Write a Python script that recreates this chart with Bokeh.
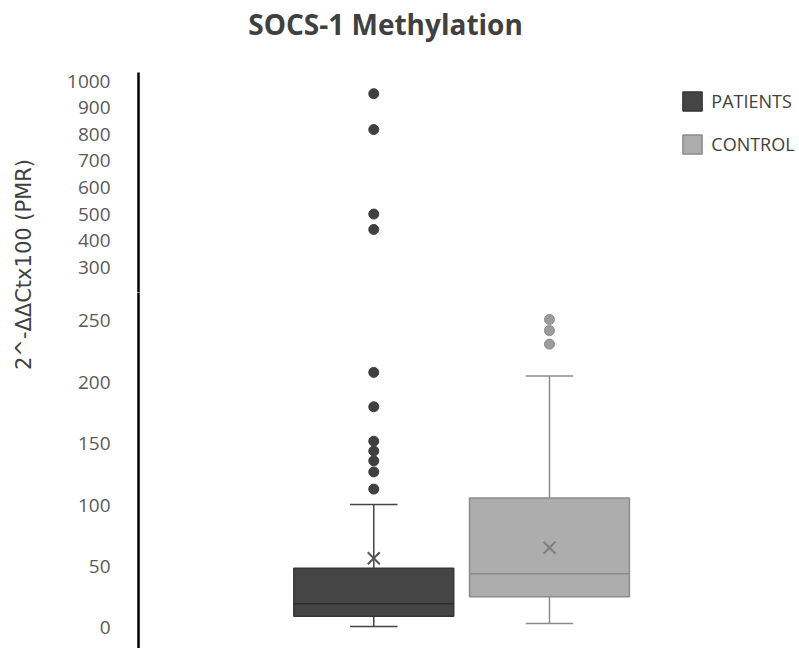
import numpy as np
from bokeh.plotting import figure
from bokeh.models import Range1d, FixedTicker, ColumnDataSource
from bokeh.layouts import row, column
from bokeh.embed import file_html
from bokeh.resources import INLINE
from bokeh.core.properties import value

# ---------------- data ----------------
title_text = "SOCS-1 Methylation"
y_label = "2^-ΔΔCtx100 (PMR)"
groups = ["PATIENTS", "CONTROL"]
positions = [1, 2]
q1 = [9.6, 25.4]
median = [19.7, 44.1]
q3 = [48.7, 105.7]
whisk_low = [1.2, 3.7]
whisk_high = [100.5, 205.0]
means = [56.8, 65.3]
outliers_patients = [953, 818, 500, 442, 208, 180, 152, 144, 136, 127, 113]
outliers_control = [251, 242, 231]
lower_ticks = [0, 50, 100, 150, 200, 250]
upper_ticks = [300, 400, 500, 600, 700, 800, 900, 1000]
break_value = 275  # values above it are drawn in the upper (compressed) panel

# ---------------- styles ----------------
fill_colors = ["#454545", "#adadad"]
line_colors = ["#363636", "#8c8c8c"]
median_colors = ["#2d2d2d", "#8a8a8a"]
whisker_colors = ["#444444", "#8c8c8c"]
mean_colors = ["#555555", "#7f7f7f"]
out_fill = ["#3f3f3f", "#9c9c9c"]
out_line = ["#3f3f3f", "#8a8a8a"]
box_w = 0.91
cap_w = 0.27
FONT = "Open Sans"

TOTAL_W = 799
TITLE_H = 56
LABEL_W = 54
MAIN_W = TOTAL_W - LABEL_W
UP_TOP = 16
UP_H = 220 + UP_TOP
LOW_H = 356
X_RANGE = (-0.339, 3.423)

src = ColumnDataSource(dict(
    x=positions, q1=q1, q3=q3, med=median, lo=whisk_low, hi=whisk_high,
    mean=means, fill=fill_colors, line=line_colors, label=groups,
    medc=median_colors, whc=whisker_colors, meanc=mean_colors,
    bl=[p - box_w / 2 for p in positions], br=[p + box_w / 2 for p in positions],
    cl=[p - cap_w / 2 for p in positions], cr=[p + cap_w / 2 for p in positions],
))


def blank(p):
    p.outline_line_color = None
    p.xgrid.visible = False
    p.ygrid.visible = False


def style_axis(p, ticks):
    p.xaxis.visible = False
    blank(p)
    ax = p.yaxis[0]
    ax.ticker = FixedTicker(ticks=ticks)
    ax.axis_line_color = "black"
    ax.axis_line_width = 2.5
    ax.major_tick_line_color = None
    ax.minor_tick_line_color = None
    ax.major_tick_out = 0
    ax.major_tick_in = 0
    ax.major_label_standoff = 28
    ax.major_label_text_font = FONT
    ax.major_label_text_font_size = "19px"
    ax.major_label_text_color = "#595959"


def outlier_points(vals, pos, upper):
    ys = [v for v in vals if (v > break_value) == upper]
    return [pos] * len(ys), ys


# ---------------- title strip ----------------
tf = figure(width=TOTAL_W, height=TITLE_H, output_backend="svg", toolbar_location=None,
            x_range=Range1d(0, 1), y_range=Range1d(0, 1), x_axis_type=None, y_axis_type=None,
            min_border=0)
blank(tf)
tf.text(x=[0.4819], y=[0.589], text=[title_text], text_align="center",
        text_baseline="alphabetic", text_font=value(FONT), text_font_size="28px",
        text_font_style="bold", text_color="#404040")

# ---------------- upper (compressed) panel ----------------
up = figure(width=MAIN_W, height=UP_H, output_backend="svg", toolbar_location=None,
            x_range=Range1d(*X_RANGE), y_range=Range1d(204.8, 1032.7),
            min_border_left=84, min_border_right=0, min_border_top=UP_TOP, min_border_bottom=0)
style_axis(up, upper_ticks)
# boxes (below this panel's range, hidden; they feed the legend)
leg_r = up.vbar(x="x", width=box_w, bottom="q1", top="q3", fill_color="fill", line_color="line",
                line_width=1.5, source=src, legend_field="label")
leg_r.visible = False
for i, vals in enumerate([outliers_patients, outliers_control]):
    xs, ys = outlier_points(vals, positions[i], True)
    up.scatter(xs, ys, size=10, fill_color=out_fill[i], line_color=out_line[i])

leg = up.legend[0]
leg.location = (542.3, 136.3)
leg.padding = 0
leg.margin = 0
leg.spacing = 19
leg.glyph_width = 24
leg.glyph_height = 24
leg.label_height = 24
leg.label_standoff = 7
leg.border_line_color = None
leg.background_fill_alpha = 0
leg.inactive_fill_alpha = 0
leg.label_text_font = FONT
leg.label_text_font_size = "18px"
leg.label_text_color = "#404040"

# ---------------- lower (linear) panel ----------------
lo = figure(width=MAIN_W, height=LOW_H, output_backend="svg", toolbar_location=None,
            x_range=Range1d(*X_RANGE), y_range=Range1d(-16.7, 273.0),
            min_border_left=84, min_border_right=0, min_border_top=0, min_border_bottom=0)
style_axis(lo, lower_ticks)
lo.segment(x0="x", x1="x", y0="q3", y1="hi", line_color="whc", line_width=1.5, source=src)
lo.segment(x0="x", x1="x", y0="lo", y1="q1", line_color="whc", line_width=1.5, source=src)
lo.segment(x0="cl", x1="cr", y0="hi", y1="hi", line_color="whc", line_width=1.5, source=src)
lo.segment(x0="cl", x1="cr", y0="lo", y1="lo", line_color="whc", line_width=1.5, source=src)
lo.vbar(x="x", width=box_w, bottom="q1", top="q3", fill_color="fill", line_color="line",
        line_width=1.5, source=src)
lo.segment(x0="bl", x1="br", y0="med", y1="med", line_color="medc", line_width=1.5, source=src)
lo.scatter(x="x", y="mean", marker="x", size=17, line_color="meanc", line_width=2, source=src)
for i, vals in enumerate([outliers_patients, outliers_control]):
    xs, ys = outlier_points(vals, positions[i], False)
    lo.scatter(xs, ys, size=10, fill_color=out_fill[i], line_color=out_line[i])

# ---------------- y-axis title strip ----------------
lab = figure(width=LABEL_W, height=UP_H + LOW_H, output_backend="svg", toolbar_location=None,
             x_range=Range1d(0, 1), y_range=Range1d(0, 1), x_axis_type=None, y_axis_type=None,
             min_border=0)
blank(lab)
lab.text(x=[0.444], y=[(648 - 264) / (648 - TITLE_H)], text=[y_label], angle=np.pi / 2,
         text_align="center", text_baseline="middle", text_font=value("DejaVu Sans"),
         text_font_size="21px", text_color="#404040")

layout = column(tf, row(lab, column(up, lo)))
open("out.html", "w").write(file_html(layout, INLINE))
